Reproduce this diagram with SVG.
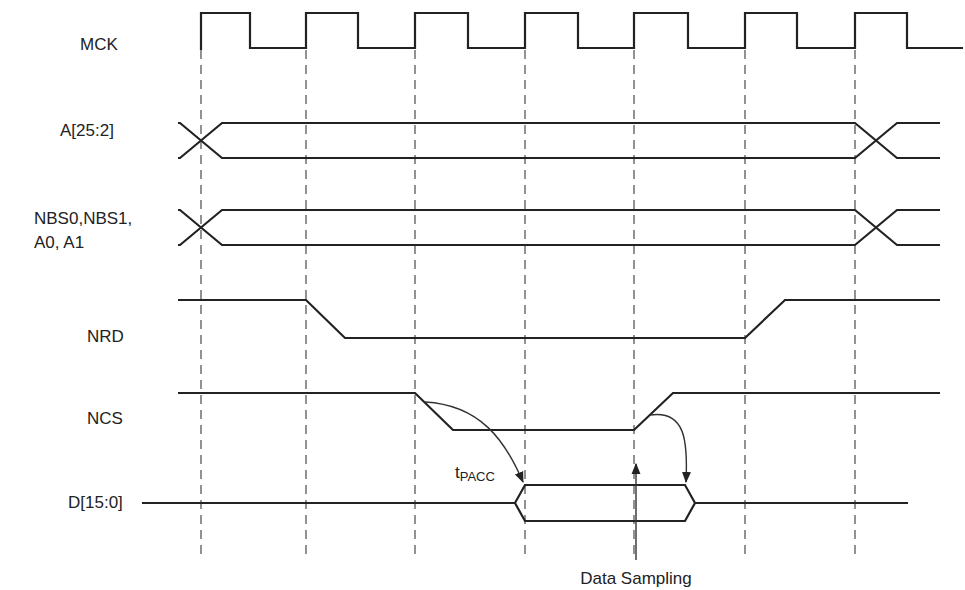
<svg xmlns="http://www.w3.org/2000/svg" width="965" height="590" viewBox="0 0 965 590">
<style>
.s{fill:none;stroke:#222;stroke-width:2.2}
.d{fill:none;stroke:#777;stroke-width:1.6;stroke-dasharray:9,6}
.a{fill:none;stroke:#333;stroke-width:1.4}
text{font-family:"Liberation Sans",Arial,sans-serif;font-size:17px;fill:#222}
</style>
<defs><marker id="ar" viewBox="0 0 10 10" refX="9" refY="5" markerWidth="8" markerHeight="10" orient="auto"><path d="M0,1 L10,5 L0,9 Z" fill="#222"/></marker></defs>
<g id="grid">
<path class="d" d="M201,50V560M306,50V560M415,50V560M525,50V560M634,50V560M745,50V560M855,50V560"/>
</g>
<g id="MCK"><text x="80" y="50">MCK</text>
<path class="s" d="M201,50V13H250V48H306V13H358V48H415V13H468V48H525V13H578V48H634V13H688V48H745V13H797V48H855V13H907V48H963"/></g>
<g id="A"><text x="60" y="136">A[25:2]</text>
<path class="s" d="M178,123H180L222,158H855L897,123H940M178,158H180L222,123H855L897,158H940"/></g>
<g id="NBS"><text x="34" y="224">NBS0,NBS1,</text><text x="34" y="248">A0, A1</text>
<path class="s" d="M178,210H180L222,245H855L897,210H940M178,245H180L222,210H855L897,245H940"/></g>
<g id="NRD"><text x="87" y="342">NRD</text>
<path class="s" d="M178,300H306L345,338H745L785,300H940"/></g>
<g id="NCS"><text x="87" y="424">NCS</text>
<path class="s" d="M178,393H415L453,430H634L673,393H940"/></g>
<g id="D"><text x="68" y="508">D[15:0]</text>
<path class="s" d="M142,503H515L525,485H685L695,503L685,521H525L515,503M695,503H908"/></g>
<g id="connectors">
<path class="a" d="M425,402C480,405 505,440 523,482" marker-end="url(#ar)"/>
<path class="a" d="M650,415C685,410 688,440 686,482" marker-end="url(#ar)"/>
<path class="a" d="M636,560V464" marker-end="url(#ar)"/>
</g>
<text x="455" y="478">t<tspan font-size="13" dy="3">PACC</tspan></text>
<text x="636" y="584" text-anchor="middle">Data Sampling</text>
</svg>
